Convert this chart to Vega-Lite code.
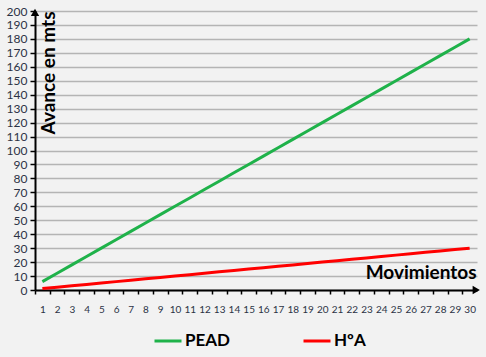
{
  "$schema": "https://vega.github.io/schema/vega-lite/v6.json",
  "width": 442,
  "height": 279,
  "autosize": {"type": "none"},
  "padding": {"left": 35, "top": 11, "right": 9, "bottom": 67},
  "background": "#f2f2f2",
  "config": {
    "view": {"stroke": null},
    "font": "Lato",
    "axis": {"domainColor": "#000000", "domainWidth": 2, "tickColor": "#000000", "tickWidth": 1.5, "labelOverlap": false, "labelFlush": false, "labelBound": false}
  },
  "datasets": {
    "series": [
      {"mov": 1, "serie": "PEAD", "avance": 6}, {"mov": 2, "serie": "PEAD", "avance": 12}, {"mov": 3, "serie": "PEAD", "avance": 18},
      {"mov": 4, "serie": "PEAD", "avance": 24}, {"mov": 5, "serie": "PEAD", "avance": 30}, {"mov": 6, "serie": "PEAD", "avance": 36},
      {"mov": 7, "serie": "PEAD", "avance": 42}, {"mov": 8, "serie": "PEAD", "avance": 48}, {"mov": 9, "serie": "PEAD", "avance": 54},
      {"mov": 10, "serie": "PEAD", "avance": 60}, {"mov": 11, "serie": "PEAD", "avance": 66}, {"mov": 12, "serie": "PEAD", "avance": 72},
      {"mov": 13, "serie": "PEAD", "avance": 78}, {"mov": 14, "serie": "PEAD", "avance": 84}, {"mov": 15, "serie": "PEAD", "avance": 90},
      {"mov": 16, "serie": "PEAD", "avance": 96}, {"mov": 17, "serie": "PEAD", "avance": 102}, {"mov": 18, "serie": "PEAD", "avance": 108},
      {"mov": 19, "serie": "PEAD", "avance": 114}, {"mov": 20, "serie": "PEAD", "avance": 120}, {"mov": 21, "serie": "PEAD", "avance": 126},
      {"mov": 22, "serie": "PEAD", "avance": 132}, {"mov": 23, "serie": "PEAD", "avance": 138}, {"mov": 24, "serie": "PEAD", "avance": 144},
      {"mov": 25, "serie": "PEAD", "avance": 150}, {"mov": 26, "serie": "PEAD", "avance": 156}, {"mov": 27, "serie": "PEAD", "avance": 162},
      {"mov": 28, "serie": "PEAD", "avance": 168}, {"mov": 29, "serie": "PEAD", "avance": 174}, {"mov": 30, "serie": "PEAD", "avance": 180},
      {"mov": 1, "serie": "HºA", "avance": 1}, {"mov": 2, "serie": "HºA", "avance": 2}, {"mov": 3, "serie": "HºA", "avance": 3},
      {"mov": 4, "serie": "HºA", "avance": 4}, {"mov": 5, "serie": "HºA", "avance": 5}, {"mov": 6, "serie": "HºA", "avance": 6},
      {"mov": 7, "serie": "HºA", "avance": 7}, {"mov": 8, "serie": "HºA", "avance": 8}, {"mov": 9, "serie": "HºA", "avance": 9},
      {"mov": 10, "serie": "HºA", "avance": 10}, {"mov": 11, "serie": "HºA", "avance": 11}, {"mov": 12, "serie": "HºA", "avance": 12},
      {"mov": 13, "serie": "HºA", "avance": 13}, {"mov": 14, "serie": "HºA", "avance": 14}, {"mov": 15, "serie": "HºA", "avance": 15},
      {"mov": 16, "serie": "HºA", "avance": 16}, {"mov": 17, "serie": "HºA", "avance": 17}, {"mov": 18, "serie": "HºA", "avance": 18},
      {"mov": 19, "serie": "HºA", "avance": 19}, {"mov": 20, "serie": "HºA", "avance": 20}, {"mov": 21, "serie": "HºA", "avance": 21},
      {"mov": 22, "serie": "HºA", "avance": 22}, {"mov": 23, "serie": "HºA", "avance": 23}, {"mov": 24, "serie": "HºA", "avance": 24},
      {"mov": 25, "serie": "HºA", "avance": 25}, {"mov": 26, "serie": "HºA", "avance": 26}, {"mov": 27, "serie": "HºA", "avance": 27},
      {"mov": 28, "serie": "HºA", "avance": 28}, {"mov": 29, "serie": "HºA", "avance": 29}, {"mov": 30, "serie": "HºA", "avance": 30}
    ],
    "arrowUp": [{"mov": 0.5, "avance": 199}],
    "arrowRight": [{"mov": 30.45, "avance": 0}]
  },
  "encoding": {
    "x": {
      "field": "mov", "type": "quantitative",
      "scale": {"domain": [0.5, 30.5], "nice": false, "zero": false},
      "axis": {
        "title": "Movimientos",
        "titleFont": "Lato", "titleFontSize": 19, "titleFontWeight": "bold", "titleColor": "#000000",
        "titleAlign": "right", "titleBaseline": "middle", "titleX": 441, "titleY": -18,
        "values": [1,2,3,4,5,6,7,8,9,10,11,12,13,14,15,16,17,18,19,20,21,22,23,24,25,26,27,28,29,30],
        "tickOffset": -7.37, "labelOffset": 7.37, "tickSize": 4,
        "labelFontSize": 10, "labelColor": "#2b3245", "labelPadding": 10, "grid": false
      }
    },
    "y": {
      "field": "avance", "type": "quantitative",
      "scale": {"domain": [0, 200], "nice": false},
      "axis": {
        "title": "Avance en mts",
        "titleFont": "Lato", "titleFontSize": 19, "titleFontWeight": "bold", "titleColor": "#000000",
        "titleAngle": -90, "titleAlign": "right", "titleBaseline": "middle", "titleX": 13, "titleY": 0,
        "values": [0,10,20,30,40,50,60,70,80,90,100,110,120,130,140,150,160,170,180,190,200],
        "tickSize": 5, "labelFontSize": 12, "labelColor": "#2b3245", "labelPadding": 3,
        "grid": true, "gridColor": "#b4b4b4", "gridWidth": 1.5
      }
    }
  },
  "layer": [
    {
      "data": {"name": "series"},
      "mark": {"type": "line", "strokeWidth": 3},
      "encoding": {
        "color": {
          "field": "serie", "type": "nominal",
          "scale": {"domain": ["PEAD", "HºA"], "range": ["#1fb24a", "#ff0000"]},
          "legend": {
            "title": null, "orient": "none", "legendX": 118, "legendY": 315, "direction": "horizontal",
            "symbolType": "stroke", "symbolSize": 729, "symbolStrokeWidth": 3,
            "labelFont": "Lato", "labelFontSize": 17, "labelFontWeight": "bold", "labelColor": "#000000",
            "labelOffset": 2, "columnPadding": 66
          }
        }
      }
    },
    {
      "data": {"name": "arrowUp"},
      "mark": {"type": "point", "shape": "triangle-up", "filled": true, "fill": "#000000", "stroke": null, "size": 70, "opacity": 1, "fillOpacity": 1, "clip": false}
    },
    {
      "data": {"name": "arrowRight"},
      "mark": {"type": "point", "shape": "triangle-right", "filled": true, "fill": "#000000", "stroke": null, "size": 70, "opacity": 1, "fillOpacity": 1, "clip": false}
    }
  ]
}
